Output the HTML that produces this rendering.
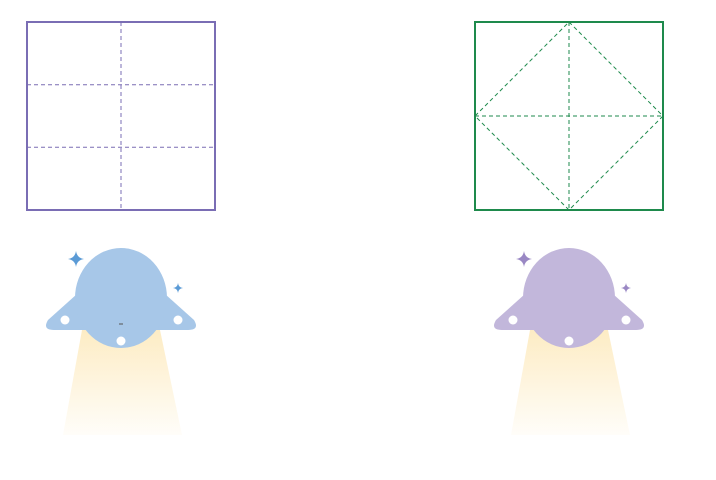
<!DOCTYPE html>
<html><head><meta charset="utf-8"><style>html,body{margin:0;padding:0;background:#fff;width:716px;height:480px;overflow:hidden}</style></head>
<body>
<svg width="716" height="480" viewBox="0 0 716 480" xmlns="http://www.w3.org/2000/svg">
<defs>
<linearGradient id="beam" x1="0" y1="0" x2="0" y2="1">
<stop offset="0" stop-color="#fdecc4"/><stop offset="1" stop-color="#fdecc4" stop-opacity="0.1"/>
</linearGradient>
</defs>
<g fill="none" stroke="#7a6db4">
<rect x="27" y="22" width="188" height="188" stroke-width="2"/>
<g stroke-width="1" stroke-dasharray="4,3">
<line x1="121" y1="22" x2="121" y2="210"/>
<line x1="27" y1="84.7" x2="215" y2="84.7"/>
<line x1="27" y1="147.3" x2="215" y2="147.3"/>
</g>
</g>
<g fill="none" stroke="#1e8a4c">
<rect x="475" y="22" width="188" height="188" stroke-width="2"/>
<g stroke-width="1" stroke-dasharray="4,3">
<line x1="569" y1="22" x2="569" y2="210"/>
<line x1="475" y1="116" x2="663" y2="116"/>
<polygon points="569,22 663,116 569,210 475,116"/>
</g>
</g>
<g>
<polygon points="82,330 160,330 182,435 63,435" fill="url(#beam)"/>
<path d="M77,294 L165,294 L194,320 Q200,330 188,330 L54,330 Q42,330 48,320 Z" fill="#a7c7e8"/>
<ellipse cx="121" cy="298" rx="46" ry="50" fill="#a7c7e8"/>
<circle cx="65" cy="320" r="4.5" fill="#fff"/><circle cx="178" cy="320" r="4.5" fill="#fff"/><circle cx="121" cy="341" r="4.5" fill="#fff"/>
<line x1="119" y1="324" x2="123" y2="324" stroke="#555" stroke-width="1"/>
<path d="M76,251 Q77,258 84,259 Q77,260 76,267 Q75,260 68,259 Q75,258 76,251Z" fill="#5b9bd6"/>
<path d="M178,283 Q178.5,287.5 183,288 Q178.5,288.5 178,293 Q177.5,288.5 173,288 Q177.5,287.5 178,283Z" fill="#5b9bd6"/>
</g>
<g transform="translate(448,0)">
<polygon points="82,330 160,330 182,435 63,435" fill="url(#beam)"/>
<path d="M77,294 L165,294 L194,320 Q200,330 188,330 L54,330 Q42,330 48,320 Z" fill="#c2b7db"/>
<ellipse cx="121" cy="298" rx="46" ry="50" fill="#c2b7db"/>
<circle cx="65" cy="320" r="4.5" fill="#fff"/><circle cx="178" cy="320" r="4.5" fill="#fff"/><circle cx="121" cy="341" r="4.5" fill="#fff"/>
<path d="M76,251 Q77,258 84,259 Q77,260 76,267 Q75,260 68,259 Q75,258 76,251Z" fill="#9a88c4"/>
<path d="M178,283 Q178.5,287.5 183,288 Q178.5,288.5 178,293 Q177.5,288.5 173,288 Q177.5,287.5 178,283Z" fill="#9a88c4"/>
</g>
</svg>
</body></html>
